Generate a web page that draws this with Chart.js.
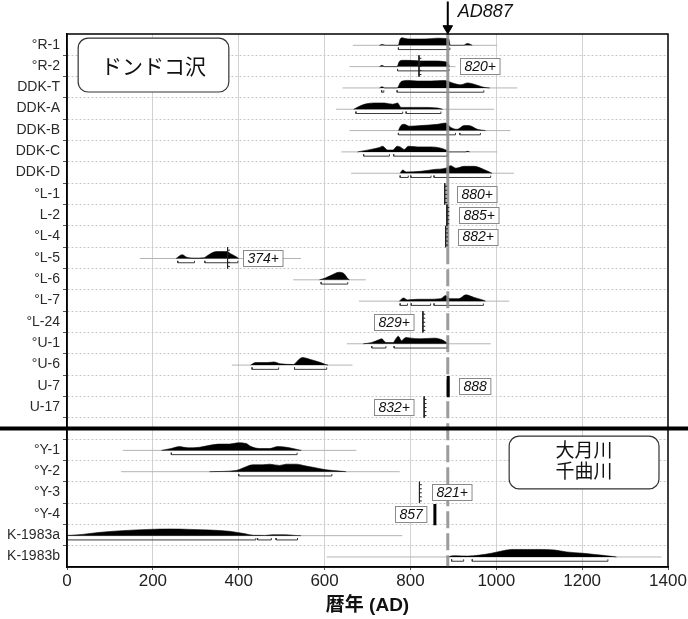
<!DOCTYPE html>
<html><head><meta charset="utf-8">
<script src="https://cdn.jsdelivr.net/npm/chart.js@4/dist/chart.umd.min.js"></script>
<style>html,body{margin:0;padding:0;background:#fff}#wrap{width:688px;height:619px}</style>
</head><body><div id="wrap"><canvas id="c" width="688" height="619"></canvas></div>
<script>
// ---------- DATA ----------
const rowLabels = ['°R-1','°R-2','DDK-T','DDK-A','DDK-B','DDK-C','DDK-D','°L-1','L-2','°L-4','°L-5','°L-6','°L-7','°L-24','°U-1','°U-6','U-7','U-17','','°Y-1','°Y-2','°Y-3','°Y-4','K-1983a','K-1983b'];
const xTicks = [0,200,400,600,800,1000,1200,1400];
const eventYear = 887;

// relative probability curves: [calendar year, relative probability]
const probR1 = [[728,0],[735,0.7],[742,0],[772,0],[775,4],[780,6],[787,5.5],[801,5],[824,5],[848,5.3],[863,5.7],[878,5.5],[889,5],[893,0],[923,0],[933,1.5],[944,0]];
const probR2 = [[728,0],[734,1],[740,0],[769,0],[774,4],[782,5],[794,5],[824,4.5],[855,4.5],[878,4],[888,2.5],[891,0]];
const probDDKT = [[728,0],[734,1],[740,0],[769,0],[778,5],[794,6],[817,5.5],[848,5.5],[878,6],[890,5],[902,3.5],[917,2.5],[933,4],[948,3],[971,0.5],[985,0]];
const probDDKA = [[668,0],[685,3],[700,4.5],[716,5],[739,5],[759,4],[770,5],[778,1.5],[790,1.5],[824,1.5],[863,1],[875,0]];
const probDDKB = [[772,0],[778,4],[786,5],[797,3.5],[824,4],[863,5],[882,6],[894,2.5],[909,1],[925,4],[936,4],[956,1],[975,0]];
const probDDKC = [[677,0],[693,1],[708,2],[728,3.5],[735,4.5],[747,1.5],[759,1.5],[769,4.5],[776,4],[786,2],[795,4.5],[817,4],[848,4],[871,3],[886,1],[890,0],[928,0],[933,0.5],[938,0]];
const probDDKD = [[776,0],[782,2.5],[790,1],[824,1.5],[855,3],[882,4],[894,6],[906,4],[925,5.5],[948,5.5],[971,3],[990,0]];
const probL5 = [[254,0],[268,3],[279,1],[299,0.3],[318,0.5],[326,2],[338,4.5],[349,5.5],[373,5.5],[380,4],[396,1],[400,0]];
const probL6 = [[588,0],[602,1.5],[618,4],[633,6],[645,5],[654,1],[658,0]];
const probL7 = [[774,0],[784,2.5],[793,1],[816,1.5],[840,1.5],[871,2],[882,4.5],[892,2],[913,2],[929,5],[948,3],[968,1],[975,0]];
const probU1 = [[690,0],[710,1],[725,3],[733,4],[743,1],[760,1],[766,4],[772,6],[779,2.5],[789,5],[801,4.5],[824,4],[855,4.5],[875,3],[886,0.5],[888,0]];
const probU6 = [[428,0],[439,2],[466,2],[482,2.5],[497,1],[528,0.5],[536,3],[548,6],[567,4.5],[591,2],[602,0.5],[608,0]];
const probY1 = [[220,0],[243,1.5],[262,3],[282,2],[309,2.5],[332,4],[355,5],[379,5],[398,6],[417,5.5],[429,3],[449,1.5],[472,1.5],[491,3],[511,2.5],[526,1.5],[546,0]];
const probY2 = [[332,0],[394,1],[410,3],[433,5.5],[456,5.5],[472,6],[495,5],[511,6],[534,6],[557,4.5],[581,3],[604,1.5],[635,0.5],[650,0]];
const probK83a = [[-20,0],[9,0.3],[36,1],[73,2.5],[129,4],[194,5],[240,5.3],[286,5],[332,4.5],[378,3.5],[415,1.5],[434,0.3],[460,0.2],[480,0.7],[508,0.7],[531,0.2],[545,0]];
const probK83b = [[890,0],[892,0.5],[905,1],[933,0.7],[961,1.5],[989,3],[1016,5],[1035,6],[1072,6],[1109,6],[1137,5.5],[1164,4],[1201,3],[1229,2],[1257,1],[1280,0]];

// extent of the unmodelled distributions [from, to]
const rangeR1=[666,1002], rangeR2=[658,905], rangeDDKT=[642,1049], rangeDDKA=[627,995], rangeDDKB=[658,1033], rangeDDKC=[639,1002], rangeDDKD=[662,1041];
const rangeL5=[170,545], rangeL6=[527,696], rangeL7=[680,1030], rangeU1=[652,987], rangeU6=[384,665];
const rangeY1=[130,674], rangeY2=[126,775], rangeK83a=[-10,781], rangeK83b=[605,1385];

// highest probability density ranges
const hpdR1=[[772,892]], hpdR2=[[770,890]], hpdDDKT=[[733,738],[769,971]], hpdDDKA=[[673,782],[790,871]];
const hpdDDKB=[[772,905],[915,963]], hpdDDKC=[[691,751],[761,886]], hpdDDKD=[[776,795],[801,848],[855,987]];
const hpdL5=[[258,297],[321,398]], hpdL6=[[592,654]], hpdL7=[[776,793],[802,847],[855,970]];
const hpdU1=[[710,743],[762,886]], hpdU6=[[431,493],[530,605]], hpdY1=[[243,536]], hpdY2=[[400,617]];
const hpdK83a=[[0,440],[444,476],[487,537]], hpdK83b=[[896,924],[944,1260]];

const distRows   = [0,1,2,3,4,5,6,10,11,12,14,15,19,20,23,24];
const distProbs  = [probR1,probR2,probDDKT,probDDKA,probDDKB,probDDKC,probDDKD,probL5,probL6,probL7,probU1,probU6,probY1,probY2,probK83a,probK83b];
const distRanges = [rangeR1,rangeR2,rangeDDKT,rangeDDKA,rangeDDKB,rangeDDKC,rangeDDKD,rangeL5,rangeL6,rangeL7,rangeU1,rangeU6,rangeY1,rangeY2,rangeK83a,rangeK83b];
const distHpd    = [hpdR1,hpdR2,hpdDDKT,hpdDDKA,hpdDDKB,hpdDDKC,hpdDDKD,hpdL5,hpdL6,hpdL7,hpdU1,hpdU6,hpdY1,hpdY2,hpdK83a,hpdK83b];

// outer-ring ("+") dates and exact bark dates
const combRows   = [1,7,8,9,10,13,17,21];
const combYears  = [820,880,885,882,374,829,832,821];
const combLabels = ['820+','880+','885+','882+','374+','829+','832+','821+'];
const barRows    = [16,22];
const barYears   = [888,857];
const barLabels  = ['888','857'];

// ---------- LAYOUT (placement of text boxes, in data coords) ----------
const labelPlace = { // row: [side, edge year]
  1:['r',915], 7:['r',909], 8:['r',913], 9:['r',911], 10:['r',409],
  13:['l',807], 17:['l',808], 21:['r',850], 16:['r',913], 22:['l',838]
};
const regionBoxes = [
  {x0:26, x1:377, y0:-0.31, y1:2.22, lines:['ドンドコ沢'], size:21, ly:[0.98]},
  {x0:1030, x1:1379, y0:18.36, y1:20.84, lines:['大月川','千曲川'], size:19, ly:[19.02,19.97]}
];

// ---------- DATASETS ----------
const H = 17;      // probability units per row
const datasets = [];
distRows.forEach((r, i) => {
  const b = r + 0.03;
  const rg = distRanges[i];
  datasets.push({data:[{x:rg[0],y:b},{x:rg[1],y:b}], borderColor:'#b4b4b4', borderWidth:1, order:6});
  datasets.push({data: distProbs[i].map(p => ({x:p[0], y:b - p[1]/H})), fill:{value:b},
    backgroundColor:'#000', borderColor:'#000', borderWidth:0.6, cubicInterpolationMode:'monotone', order:4});
  const by = b + 0.2, bd = [];
  distHpd[i].forEach(([a, c]) => {
    bd.push({x:a,y:by-0.09},{x:a,y:by},{x:c,y:by},{x:c,y:by-0.09},{x:c,y:null});
  });
  datasets.push({data:bd, borderColor:'#3a3a3a', borderWidth:1, order:5});
});
combRows.forEach((r, i) => {
  const yr = combYears[i], d = [{x:yr,y:r-0.5},{x:yr,y:r+0.5},{x:yr,y:null}];
  [-0.36,-0.17,0.02,0.21,0.4].forEach(t => d.push({x:yr,y:r+t},{x:yr+5.5,y:r+t},{x:yr+5.5,y:null}));
  datasets.push({data:d, borderColor:'#222', borderWidth:1, order:1});
});
barRows.forEach((r, i) => {
  datasets.push({data:[{x:barYears[i],y:r-0.46},{x:barYears[i],y:r+0.54}], borderColor:'#000', borderWidth:3, order:1});
});
// AD887 line: solid at top, dashed below
datasets.push({data:[{x:eventYear,y:-0.5},{x:eventYear,y:9.5}], borderColor:'rgba(145,145,145,0.9)', borderWidth:3, order:2});
datasets.push({data:[{x:eventYear,y:9.5},{x:eventYear,y:24.5}], borderColor:'rgba(145,145,145,0.9)', borderWidth:3, borderDash:[17,5], order:2});
// separator between the two regions
datasets.push({data:[{x:-200,y:18},{x:1500,y:18}], borderColor:'#000', borderWidth:4, clip:false, order:0});
// arrow
datasets.push({data:[{x:eventYear,y:-2.02},{x:eventYear,y:-0.85}], borderColor:'#000', borderWidth:2, clip:false, order:0});
datasets.push({data:[{x:eventYear,y:-0.76}], showLine:false, pointRadius:5.5, pointStyle:'triangle', rotation:180,
  pointBackgroundColor:'#000', pointBorderColor:'#000', clip:false, order:0});

// ---------- PLUGIN for frame + text boxes ----------
const annoPlugin = {
  id:'anno',
  afterDatasetsDraw(chart) {
    const {ctx, chartArea:ca, scales:{x, y}} = chart;
    ctx.save();
    ctx.strokeStyle = '#000'; ctx.lineWidth = 1.5;
    ctx.strokeRect(ca.left, ca.top, ca.right - ca.left, ca.bottom - ca.top);
    const boxes = [];
    combRows.forEach((r,i)=>boxes.push([r, combLabels[i]]));
    barRows.forEach((r,i)=>boxes.push([r, barLabels[i]]));
    ctx.font = 'italic 14px "Liberation Sans", Arial, sans-serif';
    boxes.forEach(([r, t]) => {
      const [side, edge] = labelPlace[r];
      const w = ctx.measureText(t).width + 8, h = 16;
      const ex = x.getPixelForValue(edge), yc = y.getPixelForValue(r);
      const x0 = Math.round(side === 'r' ? ex : ex - w);
      const y0 = Math.round(yc - h/2);
      ctx.fillStyle = '#fff'; ctx.fillRect(x0, y0, w, h);
      ctx.strokeStyle = '#8a8a8a'; ctx.lineWidth = 1; ctx.strokeRect(x0 + 0.5, y0 + 0.5, w, h);
      ctx.fillStyle = '#111'; ctx.textAlign = 'center'; ctx.textBaseline = 'middle';
      ctx.fillText(t, x0 + w/2 + 0.5, yc + 1);
    });
    regionBoxes.forEach(bx => {
      const x0 = x.getPixelForValue(bx.x0), x1 = x.getPixelForValue(bx.x1);
      const y0 = y.getPixelForValue(bx.y0), y1 = y.getPixelForValue(bx.y1);
      const rad = 10;
      ctx.beginPath();
      ctx.moveTo(x0 + rad, y0); ctx.lineTo(x1 - rad, y0); ctx.arcTo(x1, y0, x1, y0 + rad, rad);
      ctx.lineTo(x1, y1 - rad); ctx.arcTo(x1, y1, x1 - rad, y1, rad);
      ctx.lineTo(x0 + rad, y1); ctx.arcTo(x0, y1, x0, y1 - rad, rad);
      ctx.lineTo(x0, y0 + rad); ctx.arcTo(x0, y0, x0 + rad, y0, rad); ctx.closePath();
      ctx.fillStyle = '#fff'; ctx.fill();
      ctx.strokeStyle = '#333'; ctx.lineWidth = 1.2; ctx.stroke();
      ctx.fillStyle = '#111'; ctx.textAlign = 'center'; ctx.textBaseline = 'middle';
      ctx.font = bx.size + 'px "Noto Sans CJK JP", sans-serif';
      bx.lines.forEach((l, k) => ctx.fillText(l, (x0 + x1)/2, y.getPixelForValue(bx.ly[k])));
    });
    ctx.font = 'italic 18px "Liberation Sans", Arial, sans-serif';
    ctx.fillStyle = '#111'; ctx.textAlign = 'left'; ctx.textBaseline = 'middle';
    ctx.fillText('AD' + eventYear, x.getPixelForValue(eventYear) + 10, y.getPixelForValue(-1.55));
    ctx.restore();
  }
};

const isHalf = v => !Number.isInteger(v) && v > -0.5 && v < 24.5;

new Chart(document.getElementById('c'), {
  type:'line',
  data:{datasets},
  plugins:[annoPlugin],
  options:{
    responsive:false, animation:false, events:[],
    layout:{padding:{top:34, right:20, left:0, bottom:0}},
    elements:{point:{radius:0}, line:{tension:0}},
    plugins:{legend:{display:false}, tooltip:{enabled:false}},
    scales:{
      x:{type:'linear', min:0, max:1400,
        afterBuildTicks: s => { s.ticks = xTicks.map(v => ({value:v})); },
        afterFit: s => { s.height = 52; },
        ticks:{font:{family:'"Liberation Sans", Arial, sans-serif', size:17}, color:'#222', padding:1, maxRotation:0, autoSkip:false,
          callback: v => String(v)},
        grid:{color: c => (c.tick && c.tick.value > 0 && c.tick.value < 1400) ? '#d2d2d2' : 'transparent', tickLength:3, tickColor:'#555', lineWidth:1},
        border:{display:true, color:'#000', width:1.5},
        title:{display:true, text:'暦年 (AD)', color:'#111',
          font:{family:'"Liberation Sans", "Noto Sans CJK JP", sans-serif', size:19, weight:'bold'}, padding:{top:0, bottom:2}}
      },
      y:{type:'linear', reverse:true, min:-0.5, max:24.5,
        afterBuildTicks: s => { const t = []; for (let k = -1; k <= 49; k++) t.push({value:k/2}); s.ticks = t; },
        afterFit: s => { s.width = 67; },
        ticks:{autoSkip:false, padding:3, color:'#2a2a2a', font:{family:'"Liberation Sans", Arial, sans-serif', size:14},
          callback: v => Number.isInteger(v) ? rowLabels[v] : ''},
        grid:{color: c => (c.tick && isHalf(c.tick.value)) ? '#c6c6c6' : 'transparent',
          tickColor: c => (c.tick && isHalf(c.tick.value)) ? '#555' : 'transparent', tickLength:4, lineWidth:1},
        border:{display:true, color:'#000', width:1.5, dash:[2,2]}
      }
    }
  }
});
</script></body></html>
